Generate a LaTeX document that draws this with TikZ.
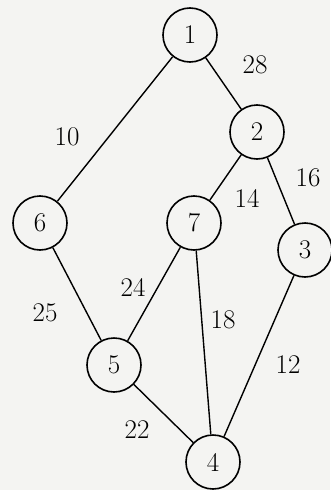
\documentclass[tikz,border=0pt]{standalone}
\usepackage{tikz}

\begin{document}
\begin{tikzpicture}[x=1pt,y=-1pt, font=\fontsize{27}{30}\selectfont,
    vert/.style={circle, draw=black, line width=1.6pt, minimum size=54pt, inner sep=0pt},
    wt/.style={inner sep=0pt}]
    \definecolor{paperColor}{RGB}{244,244,242}

    \fill[paperColor] (0,0) rectangle (330,490);
    \useasboundingbox (0,0) rectangle (330,490);

    \node[vert] (n1) at (190,35) {1};
    \node[vert] (n2) at (257,132) {2};
    \node[vert] (n6) at (40,223) {6};
    \node[vert] (n7) at (194,223) {7};
    \node[vert] (n3) at (305,250) {3};
    \node[vert] (n5) at (114,365) {5};
    \node[vert] (n4) at (213,462) {4};

    \foreach \a/\b in {n1/n2,n1/n6,n2/n7,n2/n3,n6/n5,n7/n5,n7/n4,n5/n4,n3/n4}
        {\draw[line width=1.4pt] (\a) -- (\b);}

    \node[wt] (w28) at (255,65) {28};
    \node[wt] (w10) at (67,137) {10};
    \node[wt] (w16) at (308,178) {16};
    \node[wt] (w14) at (247,198) {14};
    \node[wt] (w24) at (133,287) {24};
    \node[wt] (w25) at (45,313) {25};
    \node[wt] (w18) at (223,320) {18};
    \node[wt] (w12) at (288,365) {12};
    \node[wt] (w22) at (137,430) {22};
\end{tikzpicture}
\end{document}
